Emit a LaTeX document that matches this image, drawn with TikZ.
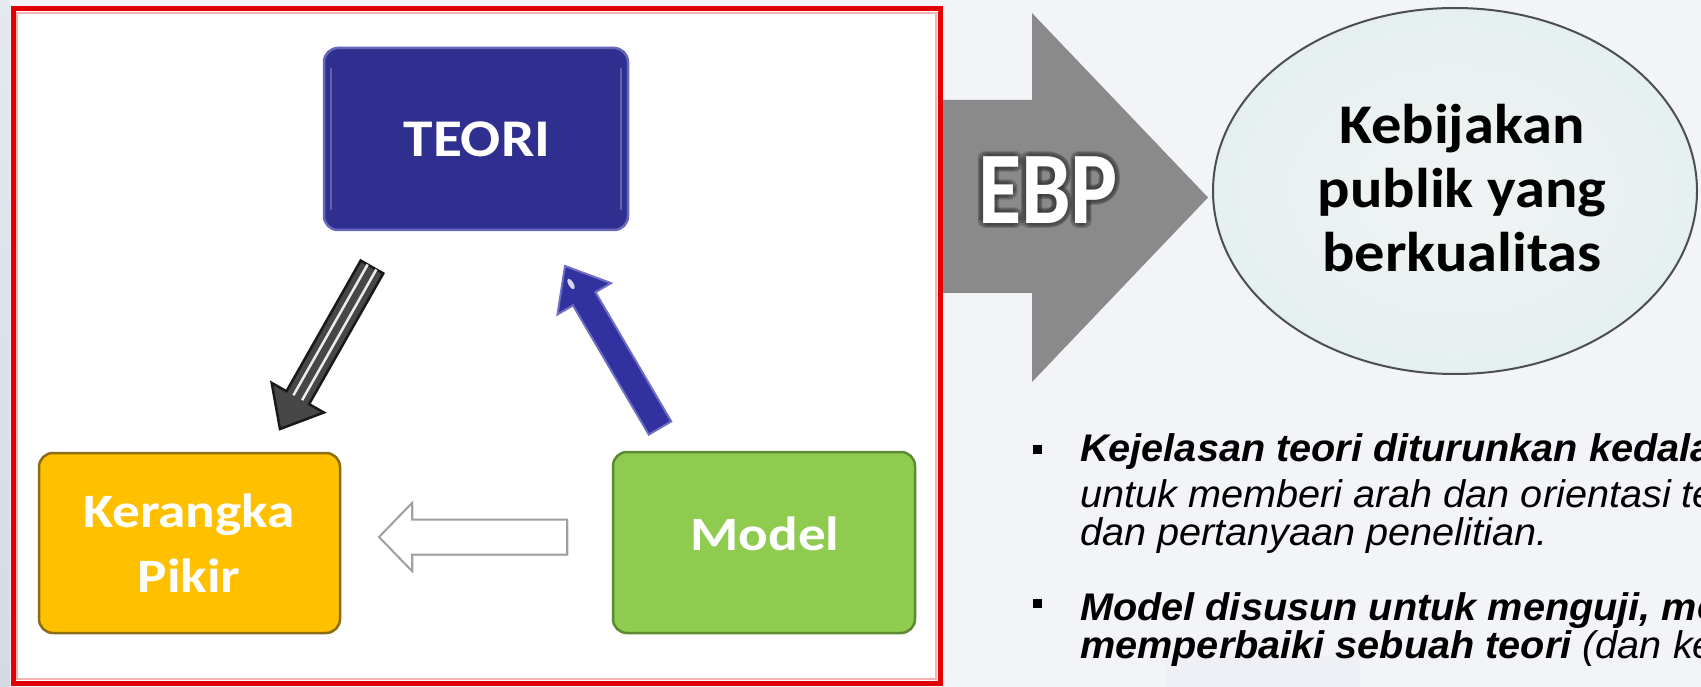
\documentclass[tikz,border=0pt]{standalone}
\usepackage{fontspec}
\usepackage{graphicx}
\setmainfont{Carlito}
\newfontfamily\slidesans{Carlito}
\newfontfamily\bodysans{Liberation Sans}
\usetikzlibrary{calc,shapes.geometric,shadows}

\definecolor{bgcol}{HTML}{F3F4F7}
\definecolor{edgestrip}{HTML}{D3DAE4}
\definecolor{fainttile}{HTML}{EEF0F6}
\definecolor{framered}{HTML}{E00000}
\definecolor{teorifill}{HTML}{2F2F8F}
\definecolor{teoriedge}{HTML}{6666BA}
\definecolor{kerfill}{HTML}{FFC000}
\definecolor{keredge}{HTML}{8C6D12}
\definecolor{modfill}{HTML}{8FCB4E}
\definecolor{modedge}{HTML}{5B8A30}
\definecolor{ebpgrey}{HTML}{8A8A8A}
\definecolor{bubbleedge}{HTML}{4A4F52}
\definecolor{bubblein}{HTML}{F1F3F4}
\definecolor{bubblemid}{HTML}{E5EFF0}
\definecolor{bubblerim}{HTML}{CAE7E7}
\definecolor{bubbleout}{HTML}{A9D7D7}
\definecolor{bluearrow}{HTML}{3131A0}
\definecolor{bluearrowedge}{HTML}{6E6EC2}

% glassy fill of the outcome bubble: pale centre, cyan rim
\pgfdeclareradialshading{bubbleglass}{\pgfpoint{0bp}{0bp}}{%
  color(0bp)=(bubblein); color(28bp)=(bubblemid); color(41bp)=(bubblerim);
  color(50bp)=(bubbleout); color(60bp)=(bubbleout)}

% horizontal stretch of a piece of text
\newcommand\hstretch[2]{\scalebox{#1}[1]{#2}}

% block arrow: name, tail, tip, half shaft width, half head width, head length, style
\newcommand\blockarrow[7]{%
  \coordinate (#1-h) at ($(#3)!#6!(#2)$);
  \path[#7] ($(#2)!#4!90:(#3)$) -- ($(#1-h)!#4!90:(#3)$) -- ($(#1-h)!#5!90:(#3)$)
    -- (#3) -- ($(#1-h)!#5!-90:(#3)$) -- ($(#1-h)!#4!-90:(#3)$)
    -- ($(#2)!#4!-90:(#3)$) -- cycle;
}

\tikzset{
  card/.style={rounded corners=14pt, line width=2.5pt, inner sep=0pt},
  cardtext/.style={text=white, inner sep=0pt,
    font=\slidesans\bfseries\fontsize{48}{58}\selectfont},
  ebptext/.style={inner sep=0pt, font=\slidesans\bfseries\fontsize{103}{110}\selectfont},
  bubbletext/.style={text=black, inner sep=0pt, anchor=base,
    font=\slidesans\bfseries\fontsize{56}{66}\selectfont},
  boldline/.style={anchor=base west, inner sep=0pt,
    font=\bodysans\bfseries\itshape\fontsize{38.5}{46}\selectfont},
  plainline/.style={anchor=base west, inner sep=0pt,
    font=\bodysans\itshape\fontsize{38.5}{46}\selectfont},
  bulletsq/.style={fill=black, inner sep=0pt, minimum size=9pt},
}

\begin{document}
\begin{tikzpicture}[x=1pt,y=-1pt]
\useasboundingbox (0,0) rectangle (1701,687);
\clip (0,0) rectangle (1701,687);

% slide background
\fill[bgcol] (0,0) rectangle (1701,687);
\shade[top color=edgestrip!60, bottom color=edgestrip] (0,0) rectangle (10,687);
\fill[fainttile] (1165,656) rectangle (1360,687);

% large grey arrow with the EBP label
\fill[ebpgrey] (943,100) -- (1032,100) -- (1032,13) -- (1208,197.5)
  -- (1032,382) -- (1032,293) -- (943,293) -- cycle;
\foreach \a in {0,20,...,340}{
  \node[ebptext, text=black!80, opacity=0.16] (ebp-glow-\a)
    at ($(1048,190)+(\a:5)$) {\hstretch{0.86}{EBP}};
}
\node[ebptext, text=white] (ebp) at (1048,190) {\hstretch{0.86}{EBP}};

% red frame around the cycle
\fill[white] (13,9) rectangle (940,683);
\draw[framered, line width=5pt] (13,9) rectangle (940,683);
\draw[framered!30, line width=1.5pt] (17,13) rectangle (936,679);

% the three boxes
\node[card, fill=teorifill, draw=teoriedge, minimum width=304pt, minimum height=182pt]
  (teori) at (476,139) {};
\draw[white, opacity=0.25, line width=2pt, line cap=round]
  ([xshift=8pt,yshift=-22pt]teori.north west) -- ([xshift=8pt,yshift=22pt]teori.south west);
\draw[white, opacity=0.25, line width=2pt, line cap=round]
  ([xshift=-8pt,yshift=-22pt]teori.north east) -- ([xshift=-8pt,yshift=22pt]teori.south east);
\node[cardtext, font=\slidesans\bfseries\fontsize{53}{60}\selectfont]
  (teori-t) at (477,139) {\hstretch{1.12}{TEORI}};

\node[card, fill=kerfill, draw=keredge, minimum width=301pt, minimum height=180pt]
  (kerangka) at (189.5,543) {};
\node[cardtext, anchor=base] (kerangka-t1) at (189,527) {\hstretch{1.15}{Kerangka}};
\node[cardtext, anchor=base] (kerangka-t2) at (189,592) {\hstretch{1.15}{Pikir}};

\node[card, fill=modfill, draw=modedge, minimum width=302pt, minimum height=181pt]
  (model) at (764,542.5) {};
\node[cardtext, anchor=base] (model-t) at (765,550) {\hstretch{1.15}{Model}};

% arrow from TEORI down to Kerangka Pikir
\coordinate (gT) at (372,267);
\coordinate (gP) at (280,429);
\blockarrow{ga}{gT}{gP}{13pt}{30pt}{36pt}{fill=black!72, draw=black!90, line width=2.5pt}
\draw[white!85!gray, line width=2.5pt] ($(gT)!5pt!90:(gP)$) -- ($(ga-h)!5pt!90:(gP)$);
\draw[white!85!gray, line width=2.5pt] ($(gT)!5pt!-90:(gP)$) -- ($(ga-h)!5pt!-90:(gP)$);

% arrow from Model up to TEORI
\coordinate (bT) at (660,428);
\coordinate (bP) at (565,266);
\blockarrow{ba}{bT}{bP}{13pt}{31pt}{38pt}{fill=bluearrow, draw=bluearrowedge, line width=2pt}
\fill[white, opacity=0.8, rotate around={30:(571,284)}] (571,284) ellipse (2.5pt and 6pt);

% arrow from Model to Kerangka Pikir
\coordinate (wT) at (567,537);
\coordinate (wP) at (379,537);
\blockarrow{wa}{wT}{wP}{17.5pt}{34pt}{33pt}{fill=white, draw=gray!75, line width=2pt,
  drop shadow={shadow xshift=1.5pt, shadow yshift=-1.5pt, opacity=0.25}}

% outcome bubble
\node[ellipse, draw=bubbleedge, line width=2pt, shading=bubbleglass,
  minimum width=484pt, minimum height=366pt, inner sep=0pt] (goal) at (1455,191) {};
\node[bubbletext] (goal-t1) at (1462,144) {\hstretch{1.08}{Kebijakan}};
\node[bubbletext] (goal-t2) at (1462,208) {\hstretch{1.08}{publik yang}};
\node[bubbletext] (goal-t3) at (1462,272) {\hstretch{1.08}{berkualitas}};

% bullet points
\node[bulletsq] (bul1) at (1037,449) {};
\node[boldline] (p1-l1) at (1080,461) {\hstretch{1.03}{Kejelasan teori diturunkan kedalam}};
\node[plainline] (p1-l2) at (1080,507) {\hstretch{1.03}{untuk memberi arah dan orientasi te}};
\node[plainline] (p1-l3) at (1080,545) {\hstretch{1.03}{dan pertanyaan penelitian.}};
\node[bulletsq] (bul2) at (1037,603) {};
\node[boldline] (p2-l1) at (1080,620) {\hstretch{1.03}{Model disusun untuk menguji, me}};
\node[plainline] (p2-l2) at (1080,658) {\hstretch{1.03}{{\bfseries memperbaiki sebuah teori} (dan ke}};
\end{tikzpicture}
\end{document}
